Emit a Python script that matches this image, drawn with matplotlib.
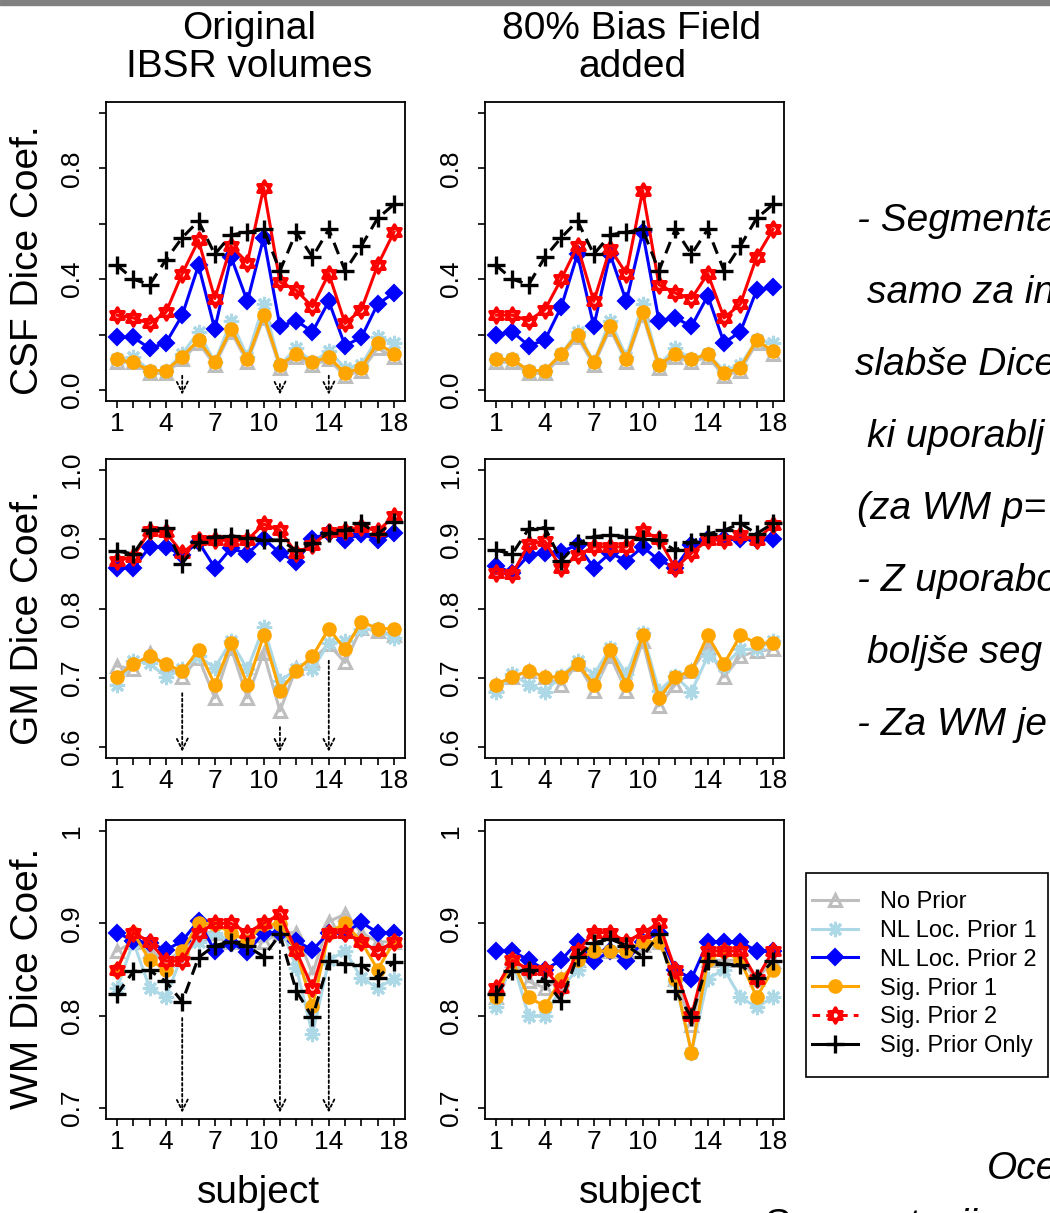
import numpy as np
import matplotlib
matplotlib.use('Agg')
import matplotlib.pyplot as plt
from matplotlib.path import Path
from matplotlib.lines import Line2D
from matplotlib.patches import Rectangle

plt.rcParams['font.family'] = ['Liberation Sans', 'DejaVu Sans']

subjects = np.arange(1, 19)
xtick_labels = {1: '1', 4: '4', 7: '7', 10: '10', 14: '14', 18: '18'}
arrow_subjects = [5, 11, 14]

series_names = ['No Prior', 'NL Loc. Prior 1', 'NL Loc. Prior 2',
                'Sig. Prior 1', 'Sig. Prior 2', 'Sig. Prior Only']

# CSF, original volumes
csf_orig_none = [0.10, 0.10, 0.06, 0.06, 0.11, 0.17, 0.09, 0.21, 0.10, 0.26, 0.08, 0.12, 0.09, 0.11, 0.05, 0.07, 0.15, 0.12]
csf_orig_nl1 = [0.11, 0.12, 0.07, 0.07, 0.13, 0.21, 0.10, 0.25, 0.12, 0.31, 0.09, 0.15, 0.10, 0.14, 0.08, 0.09, 0.19, 0.17]
csf_orig_nl2 = [0.19, 0.19, 0.15, 0.17, 0.27, 0.45, 0.22, 0.48, 0.32, 0.55, 0.23, 0.25, 0.21, 0.32, 0.16, 0.19, 0.31, 0.35]
csf_orig_sig1 = [0.11, 0.10, 0.07, 0.07, 0.12, 0.18, 0.10, 0.22, 0.11, 0.27, 0.09, 0.13, 0.10, 0.12, 0.06, 0.08, 0.17, 0.13]
csf_orig_sig2 = [0.27, 0.26, 0.24, 0.28, 0.42, 0.54, 0.33, 0.52, 0.46, 0.73, 0.39, 0.36, 0.30, 0.42, 0.24, 0.29, 0.45, 0.57]
csf_orig_only = [0.45, 0.40, 0.38, 0.47, 0.55, 0.61, 0.49, 0.56, 0.57, 0.58, 0.43, 0.57, 0.48, 0.58, 0.43, 0.52, 0.62, 0.67]

# CSF, 80% bias field
csf_bias_none = [0.10, 0.10, 0.06, 0.06, 0.12, 0.19, 0.09, 0.22, 0.10, 0.27, 0.08, 0.12, 0.10, 0.12, 0.05, 0.07, 0.17, 0.13]
csf_bias_nl1 = [0.11, 0.11, 0.07, 0.07, 0.13, 0.21, 0.10, 0.25, 0.12, 0.31, 0.09, 0.15, 0.11, 0.13, 0.07, 0.09, 0.18, 0.17]
csf_bias_nl2 = [0.20, 0.21, 0.16, 0.18, 0.30, 0.49, 0.23, 0.49, 0.32, 0.57, 0.25, 0.26, 0.23, 0.34, 0.17, 0.21, 0.36, 0.37]
csf_bias_sig1 = [0.11, 0.11, 0.07, 0.07, 0.13, 0.20, 0.10, 0.23, 0.11, 0.28, 0.09, 0.13, 0.11, 0.13, 0.06, 0.08, 0.18, 0.14]
csf_bias_sig2 = [0.27, 0.27, 0.25, 0.29, 0.40, 0.52, 0.32, 0.51, 0.42, 0.72, 0.38, 0.35, 0.33, 0.42, 0.26, 0.31, 0.48, 0.58]
csf_bias_only = [0.45, 0.40, 0.38, 0.48, 0.55, 0.61, 0.49, 0.56, 0.57, 0.58, 0.43, 0.58, 0.49, 0.58, 0.43, 0.52, 0.62, 0.67]

# GM, original volumes
gm_orig_none = [0.717, 0.712, 0.736, 0.717, 0.701, 0.729, 0.671, 0.743, 0.671, 0.736, 0.652, 0.714, 0.726, 0.748, 0.722, 0.772, 0.767, 0.762]
gm_orig_nl1 = [0.690, 0.724, 0.721, 0.701, 0.712, 0.731, 0.714, 0.753, 0.712, 0.773, 0.695, 0.712, 0.712, 0.750, 0.753, 0.770, 0.770, 0.757]
gm_orig_nl2 = [0.858, 0.858, 0.889, 0.889, 0.877, 0.896, 0.859, 0.887, 0.879, 0.901, 0.880, 0.867, 0.901, 0.909, 0.899, 0.908, 0.899, 0.909]
gm_orig_sig1 = [0.701, 0.720, 0.731, 0.720, 0.709, 0.740, 0.690, 0.750, 0.690, 0.761, 0.681, 0.710, 0.731, 0.771, 0.741, 0.781, 0.771, 0.771]
gm_orig_sig2 = [0.869, 0.875, 0.912, 0.910, 0.880, 0.899, 0.899, 0.898, 0.899, 0.922, 0.913, 0.880, 0.892, 0.911, 0.912, 0.918, 0.912, 0.933]
gm_orig_only = [0.883, 0.879, 0.913, 0.916, 0.865, 0.896, 0.904, 0.905, 0.902, 0.899, 0.899, 0.884, 0.894, 0.909, 0.913, 0.923, 0.908, 0.925]

# GM, 80% bias field
gm_bias_none = [0.690, 0.701, 0.710, 0.701, 0.690, 0.720, 0.681, 0.731, 0.681, 0.753, 0.659, 0.690, 0.710, 0.745, 0.701, 0.731, 0.738, 0.741]
gm_bias_nl1 = [0.680, 0.705, 0.690, 0.680, 0.702, 0.724, 0.704, 0.743, 0.705, 0.765, 0.681, 0.702, 0.680, 0.731, 0.717, 0.741, 0.741, 0.753]
gm_bias_nl2 = [0.862, 0.851, 0.877, 0.880, 0.882, 0.892, 0.859, 0.880, 0.869, 0.889, 0.870, 0.859, 0.892, 0.901, 0.901, 0.900, 0.899, 0.900]
gm_bias_sig1 = [0.690, 0.701, 0.710, 0.701, 0.701, 0.720, 0.690, 0.740, 0.690, 0.761, 0.670, 0.701, 0.710, 0.761, 0.720, 0.761, 0.750, 0.750]
gm_bias_sig2 = [0.851, 0.850, 0.893, 0.897, 0.858, 0.877, 0.889, 0.889, 0.889, 0.912, 0.901, 0.858, 0.880, 0.899, 0.899, 0.906, 0.899, 0.921]
gm_bias_only = [0.884, 0.879, 0.915, 0.917, 0.869, 0.894, 0.904, 0.906, 0.904, 0.900, 0.899, 0.884, 0.896, 0.908, 0.913, 0.923, 0.908, 0.923]

# WM, original volumes
wm_orig_none = [0.870, 0.880, 0.870, 0.860, 0.870, 0.890, 0.890, 0.880, 0.880, 0.880, 0.890, 0.890, 0.845, 0.902, 0.910, 0.890, 0.880, 0.880]
wm_orig_nl1 = [0.830, 0.880, 0.830, 0.820, 0.866, 0.880, 0.890, 0.880, 0.873, 0.890, 0.899, 0.852, 0.780, 0.860, 0.870, 0.841, 0.830, 0.840]
wm_orig_nl2 = [0.890, 0.881, 0.879, 0.871, 0.881, 0.903, 0.870, 0.879, 0.869, 0.890, 0.890, 0.881, 0.871, 0.890, 0.890, 0.901, 0.890, 0.890]
wm_orig_sig1 = [0.850, 0.890, 0.860, 0.850, 0.870, 0.900, 0.899, 0.890, 0.881, 0.899, 0.899, 0.870, 0.810, 0.890, 0.900, 0.880, 0.850, 0.880]
wm_orig_sig2 = [0.850, 0.890, 0.880, 0.859, 0.859, 0.890, 0.900, 0.900, 0.890, 0.900, 0.910, 0.870, 0.830, 0.890, 0.890, 0.880, 0.870, 0.880]
wm_orig_only = [0.823, 0.848, 0.849, 0.837, 0.815, 0.863, 0.876, 0.880, 0.875, 0.864, 0.888, 0.827, 0.798, 0.859, 0.856, 0.855, 0.841, 0.858]

# WM, 80% bias field
wm_bias_none = [0.820, 0.860, 0.837, 0.830, 0.840, 0.860, 0.870, 0.870, 0.870, 0.877, 0.880, 0.840, 0.790, 0.860, 0.860, 0.860, 0.840, 0.859]
wm_bias_nl1 = [0.809, 0.860, 0.800, 0.800, 0.830, 0.850, 0.870, 0.870, 0.870, 0.880, 0.880, 0.837, 0.760, 0.840, 0.850, 0.820, 0.809, 0.820]
wm_bias_nl2 = [0.870, 0.870, 0.860, 0.850, 0.860, 0.880, 0.859, 0.870, 0.859, 0.880, 0.890, 0.850, 0.840, 0.880, 0.880, 0.880, 0.870, 0.870]
wm_bias_sig1 = [0.820, 0.860, 0.820, 0.810, 0.840, 0.860, 0.870, 0.870, 0.870, 0.880, 0.880, 0.840, 0.760, 0.860, 0.870, 0.860, 0.820, 0.850]
wm_bias_sig2 = [0.830, 0.860, 0.850, 0.850, 0.830, 0.870, 0.890, 0.890, 0.880, 0.890, 0.900, 0.850, 0.800, 0.870, 0.870, 0.870, 0.840, 0.870]
wm_bias_only = [0.823, 0.848, 0.850, 0.838, 0.816, 0.864, 0.879, 0.883, 0.876, 0.864, 0.888, 0.827, 0.798, 0.859, 0.856, 0.855, 0.841, 0.859]

# star of David marker (two overlapping triangles)
s = np.sqrt(3) / 2
david = Path([(0, 1), (-s, -0.5), (s, -0.5), (0, 1),
              (0, -1), (-s, 0.5), (s, 0.5), (0, -1)],
             [Path.MOVETO, Path.LINETO, Path.LINETO, Path.CLOSEPOLY,
              Path.MOVETO, Path.LINETO, Path.LINETO, Path.CLOSEPOLY])

styles = [
    dict(color='#BEBEBE', marker='^', ms=9, mfc='none', mew=2.2, ls='-'),
    dict(color='#ADD8E6', marker=(8, 2, 0), ms=11, mew=2.2, ls='-'),
    dict(color='#0000FF', marker='D', ms=8, mfc='#0000FF', mew=1.5, ls='-'),
    dict(color='#FFA500', marker='o', ms=9, mfc='#FFA500', mew=1.5, ls='-'),
    dict(color='#FF0000', marker=david, ms=11, mfc='none', mew=2.4, ls='-'),
    dict(color='black', marker='+', ms=13, mew=2.4, ls=(0, (4, 2.5))),
]

W, H = 1050, 1213


def px_box(left, top, right, bottom):
    return [left / W, 1 - bottom / H, (right - left) / W, (bottom - top) / H]


def build_panel(ax, data, ylim, yticks, ylabels, arrows):
    for vals, st in zip(data, styles):
        ax.plot(subjects, vals, lw=2.2, **st)
    lo, hi = ylim
    pad = 0.04 * (hi - lo)
    ax.set_ylim(lo - pad, hi + pad)
    ax.set_xlim(1 - 0.04 * 17, 18 + 0.04 * 17)
    ax.set_xticks(subjects)
    ax.set_xticklabels([xtick_labels.get(s, '') for s in subjects])
    ax.set_yticks(yticks)
    ax.set_yticklabels(ylabels)
    ax.tick_params(axis='both', direction='out', length=5, width=1.2,
                   labelsize=19, color='black')
    ax.tick_params(axis='x', pad=3)
    ax.tick_params(axis='y', pad=11)
    for lab in ax.get_yticklabels():
        lab.set_rotation(90)
        lab.set_va('center')
        lab.set_ha('right')
    for sp in ax.spines.values():
        sp.set_linewidth(1.3)
    if arrows:
        rng = hi - lo + 2 * pad
        for x in arrow_subjects:
            low = min(d[x - 1] for d in data)
            ax.annotate('', xy=(x, lo - pad + 0.012 * rng),
                        xytext=(x, low - 0.045 * rng),
                        arrowprops=dict(arrowstyle='->,head_length=0.8,head_width=0.4',
                                        ls=(0, (1.5, 1.5)), lw=1.3, color='black'))


fig = plt.figure(figsize=(W / 100, H / 100), dpi=100)
fig.patches.append(Rectangle((0, 1 - 5 / H), 1, 5 / H, color='#808080',
                             transform=fig.transFigure, figure=fig))

cols = [(106, 405), (485, 784)]
rows = [(102, 401), (459, 758), (820, 1119)]

panels = [
    [[csf_orig_none, csf_orig_nl1, csf_orig_nl2, csf_orig_sig1, csf_orig_sig2, csf_orig_only],
     [csf_bias_none, csf_bias_nl1, csf_bias_nl2, csf_bias_sig1, csf_bias_sig2, csf_bias_only]],
    [[gm_orig_none, gm_orig_nl1, gm_orig_nl2, gm_orig_sig1, gm_orig_sig2, gm_orig_only],
     [gm_bias_none, gm_bias_nl1, gm_bias_nl2, gm_bias_sig1, gm_bias_sig2, gm_bias_only]],
    [[wm_orig_none, wm_orig_nl1, wm_orig_nl2, wm_orig_sig1, wm_orig_sig2, wm_orig_only],
     [wm_bias_none, wm_bias_nl1, wm_bias_nl2, wm_bias_sig1, wm_bias_sig2, wm_bias_only]],
]
row_limits = [(0.0, 1.0), (0.6, 1.0), (0.7, 1.0)]
row_ticks = [[0.0, 0.2, 0.4, 0.6, 0.8, 1.0], [0.6, 0.7, 0.8, 0.9, 1.0], [0.7, 0.8, 0.9, 1.0]]
row_ticklabels = [['0.0', '', '0.4', '', '0.8', ''],
                  ['0.6', '0.7', '0.8', '0.9', '1.0'],
                  ['0.7', '0.8', '0.9', '1']]
row_ylabels = ['CSF Dice Coef.', 'GM Dice Coef.', 'WM Dice Coef.']

for r, (top, bottom) in enumerate(rows):
    for c, (left, right) in enumerate(cols):
        ax = fig.add_axes(px_box(left, top, right, bottom))
        build_panel(ax, panels[r][c], row_limits[r], row_ticks[r],
                    row_ticklabels[r], arrows=(c == 0))
    fig.text(28 / W, 1 - ((top + bottom) / 2 + 9) / H, row_ylabels[r],
             rotation=90, ha='center', va='center', fontsize=28)

fig.text(249 / W, 1 - 48 / H, 'Original\nIBSR volumes', ha='center', va='center',
         fontsize=28, linespacing=1.05)
fig.text(632 / W, 1 - 48 / H, '80% Bias Field\nadded', ha='center', va='center',
         fontsize=28, linespacing=1.05)
fig.text(258 / W, 1 - 1193 / H, 'subject', ha='center', va='center', fontsize=28)
fig.text(640 / W, 1 - 1193 / H, 'subject', ha='center', va='center', fontsize=28)

# legend: entries without frame, box drawn separately (R style, tight left padding)
handles = []
for st in styles:
    st = dict(st)
    if st['color'] == '#FF0000':
        st['ls'] = (0, (2.5, 2))
    elif st['color'] == 'black':
        st['ls'] = '-'
    handles.append(Line2D([], [], lw=2.2, **st))
fig.legend(handles, series_names, loc='upper left',
           bbox_to_anchor=(812 / W, 1 - 891 / H), fontsize=17,
           frameon=False, handlelength=1.95, handletextpad=0.93,
           labelspacing=0.29, borderpad=0, borderaxespad=0)
fig.patches.append(Rectangle((806 / W, 1 - 1077 / H), 242 / W, 204 / H,
                             fill=False, edgecolor='black', lw=1.2,
                             transform=fig.transFigure, figure=fig))

# notes on the right side, cut by the slide edge as in the source
notes = [(857, 231, '- Segmenta'), (867, 303, 'samo za in'),
         (855, 375, 'slabše Dice'), (867, 447, 'ki uporablj'),
         (857, 519, '(za WM p='), (857, 591, '- Z uporabo'),
         (867, 663, 'boljše seg'), (857, 735, '- Za WM je')]
for x, y, t in notes:
    fig.text(x / W, 1 - y / H, t, ha='left', va='baseline', fontsize=28, style='italic')

fig.text(987 / W, 1 - 1179 / H, 'Oce', ha='left', va='baseline', fontsize=28, style='italic')
fig.text(763 / W, 1 - 1236 / H, 'Segmentacija s', ha='left', va='baseline',
         fontsize=28, style='italic')

fig.savefig('out.png', dpi=100)
